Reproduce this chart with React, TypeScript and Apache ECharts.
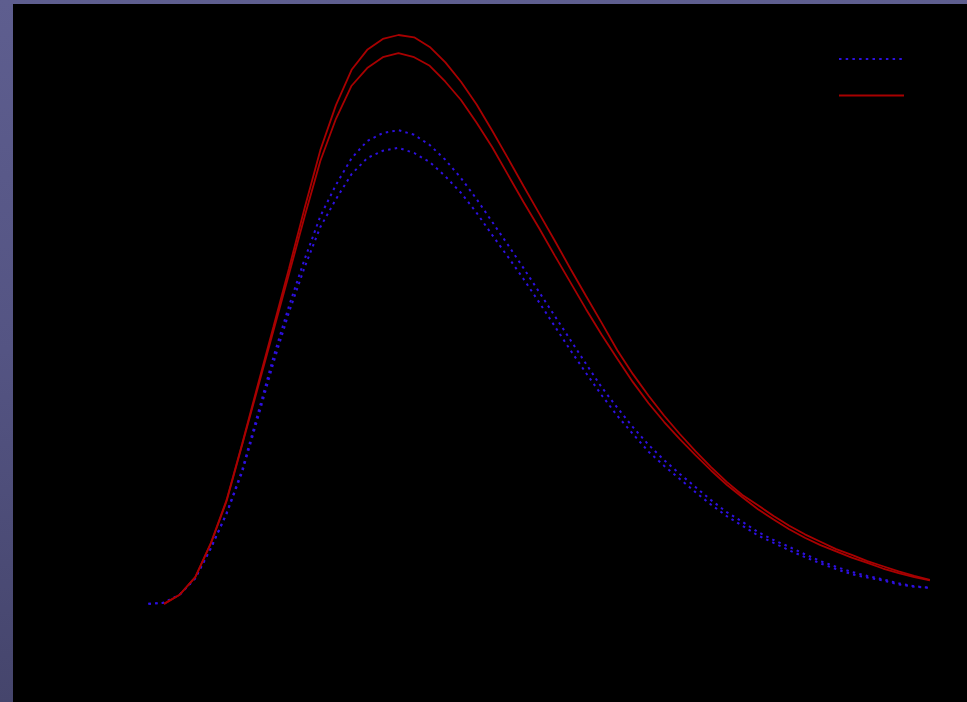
import React, { useEffect, useRef } from "react";
import * as echarts from "echarts";

// wavelength samples (arbitrary units)
const categories = [
  "0.1", "0.2", "0.3", "0.4", "0.5", "0.6", "0.7", "0.8", "0.9", "1.0",
  "1.1", "1.2", "1.3", "1.4", "1.5", "1.6", "1.7", "1.8", "1.9", "2.0",
  "2.1", "2.2", "2.3", "2.4", "2.5", "2.6", "2.7", "2.8", "2.9", "3.0",
  "3.1", "3.2", "3.3", "3.4", "3.5", "3.6", "3.7", "3.8", "3.9", "4.0",
  "4.1", "4.2", "4.3", "4.4", "4.5", "4.6", "4.7", "4.8", "4.9", "5.0",
  "5.1",
];

// blue dotted curves (upper, lower)
const blueUpper = [
  0.2, 0.4, 1.8, 4.7, 10.0, 16.1, 23.7, 33.5, 43.5, 52.5,
  60.7, 68.2, 73.7, 78.4, 81.4, 82.8, 83.3, 82.5, 80.7, 78.1,
  74.9, 71.2, 67.2, 63.2, 59.1, 54.9, 50.7, 46.5, 42.3, 38.2,
  34.6, 31.2, 28.1, 25.4, 23.0, 20.7, 18.4, 16.3, 14.6, 12.8,
  11.4, 10.2, 8.9, 7.7, 6.7, 5.8, 5.1, 4.5, 3.8, 3.3,
  3.0,
];
const blueLower = [
  0.2, 0.4, 1.8, 4.7, 10.0, 16.0, 23.3, 32.8, 42.5, 51.4,
  59.3, 66.3, 71.2, 75.6, 78.4, 79.7, 80.2, 79.3, 77.7, 75.2,
  72.3, 68.8, 64.9, 61.1, 57.2, 53.1, 48.9, 44.7, 40.7, 36.8,
  33.2, 30.0, 26.9, 24.4, 22.1, 19.8, 17.6, 15.6, 13.9, 12.2,
  10.9, 9.6, 8.4, 7.3, 6.3, 5.4, 4.8, 4.3, 3.6, 3.2,
  3.0,
];

// red solid curves (upper, lower); first sample missing
const redUpper = [
  null, 0.2, 1.8, 4.9, 10.9, 18.4, 28.3, 38.6, 48.8, 59.1,
  69.7, 79.8, 87.7, 93.9, 97.4, 99.3, 100.0, 99.6, 97.9, 95.2,
  91.8, 87.8, 83.2, 78.4, 73.5, 68.7, 63.9, 59.0, 54.2, 49.5,
  44.7, 40.5, 36.7, 33.2, 30.0, 27.0, 24.2, 21.6, 19.3, 17.5,
  15.6, 13.9, 12.4, 11.1, 9.8, 8.8, 7.7, 6.8, 5.9, 5.1,
  4.4,
];
const redLower = [
  null, 0.2, 1.8, 4.9, 10.8, 18.2, 28.1, 38.1, 48.1, 58.1,
  68.2, 77.9, 85.3, 91.1, 94.2, 96.1, 96.8, 96.1, 94.6, 91.8,
  88.6, 84.6, 80.3, 75.5, 70.7, 66.1, 61.3, 56.6, 51.9, 47.4,
  43.2, 39.1, 35.4, 32.1, 29.1, 26.3, 23.6, 21.1, 18.9, 16.8,
  15.0, 13.3, 11.8, 10.5, 9.4, 8.3, 7.4, 6.4, 5.6, 4.9,
  4.3,
];

const BLUE = "#2d10e0";
const RED = "#a80000";

export default function App() {
  const ref = useRef<HTMLDivElement>(null);
  useEffect(() => {
    if (!ref.current) return;
    const chart = echarts.init(ref.current, null, { renderer: "svg" });
    const blueStyle = { color: BLUE, width: 2, type: [2.5, 4.2] as any, cap: "butt" as any };
    const redStyle = { color: RED, width: 1.8 };
    chart.setOption({
      animation: false,
      backgroundColor: {
        type: "linear", x: 0, y: 0, x2: 0, y2: 1,
        colorStops: [
          { offset: 0, color: "#5e5e8f" },
          { offset: 0.5, color: "#545483" },
          { offset: 1, color: "#45456c" },
        ],
      },
      graphic: [
        {
          type: "rect",
          z: -10,
          silent: true,
          shape: { x: 13, y: 4, width: 954, height: 698 },
          style: { fill: "#000000" },
        },
      ],
      grid: { left: 148.4, right: 37.1, top: 35, bottom: 97, containLabel: false },
      legend: {
        orient: "vertical",
        left: 838,
        top: 52,
        padding: 0,
        itemWidth: 65,
        itemHeight: 14,
        itemGap: 24,
        data: ["Theory", "Simulation"],
        formatter: () => "",
        itemStyle: { opacity: 0 },
        textStyle: { color: "#000000" },
      },
      xAxis: {
        type: "category",
        data: categories,
        boundaryGap: false,
        show: false,
      },
      yAxis: {
        type: "value",
        min: 0,
        max: 100,
        show: false,
        splitLine: { show: false },
      },
      series: [
        { name: "Theory", type: "line", data: blueUpper, symbol: "none", lineStyle: blueStyle, itemStyle: { color: BLUE }, z: 2 },
        { name: "Theory", type: "line", data: blueLower, symbol: "none", lineStyle: blueStyle, itemStyle: { color: BLUE }, z: 2 },
        { name: "Simulation", type: "line", data: redUpper, symbol: "none", lineStyle: redStyle, itemStyle: { color: RED }, z: 3 },
        { name: "Simulation", type: "line", data: redLower, symbol: "none", lineStyle: redStyle, itemStyle: { color: RED }, z: 3 },
      ],
    });
    return () => chart.dispose();
  }, []);
  return (
    <div
      ref={ref}
      style={{ position: "absolute", left: 0, top: 0, width: 967, height: 702 }}
    />
  );
}
